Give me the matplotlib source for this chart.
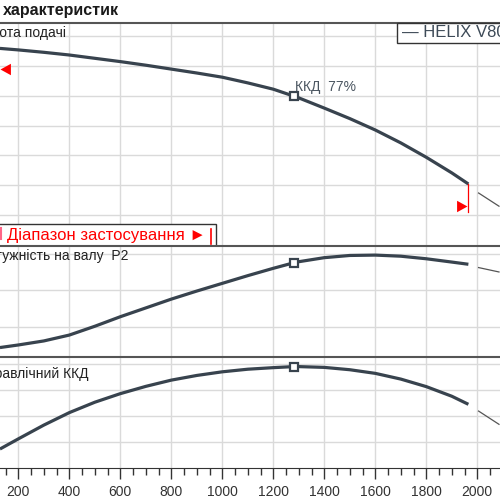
import matplotlib.pyplot as plt
from matplotlib.patches import Rectangle
from matplotlib.ticker import MultipleLocator

plt.rcParams['font.family'] = ['Liberation Sans', 'DejaVu Sans']

# flow values, Q
q = [128, 200, 300, 400, 500, 600, 700, 800, 900, 1000, 1100, 1200, 1280,
     1300, 1400, 1500, 1600, 1700, 1800, 1900, 1965]
# head, power P2, efficiency along the curve
head = [65.7, 65.2, 64.4, 63.5, 62.4, 61.3, 60.1, 58.8, 57.5, 56.1, 54.2, 52.1, 49.8,
        49.2, 45.8, 42.3, 38.5, 34.2, 29.4, 24.2, 20.5]
power = [17.2, 17.55, 18.1, 18.9, 20.1, 21.4, 22.6, 23.8, 24.9, 25.95, 27.0, 28.0, 28.75,
         28.9, 29.45, 29.75, 29.8, 29.65, 29.3, 28.85, 28.55]
eff = [45.3, 49.2, 54.5, 59.3, 63.3, 66.6, 69.4, 71.8, 73.6, 75.0, 76.0, 76.6, 77.0,
       77.0, 76.7, 75.8, 74.4, 72.2, 69.3, 65.6, 62.5]

# thin extension beyond the application range
q_ext = [2005, 2085]
head_ext = [17.5, 13.1]
power_ext = [28.1, 27.5]
eff_ext = [59.9, 54.8]

q_bep = 1280
head_bep = 49.8
power_bep = 28.75
eff_bep = 77

q_range = [128, 1965]
range_mark_h = [58.8, 13.3]
range_line_h = [20.5, 11.3]

line_col = '#38434e'
grid_col = '#dadada'

fig = plt.figure(figsize=(5, 5), dpi=100)
ax1 = fig.add_axes([0, 0.508, 1, 0.4466])
ax2 = fig.add_axes([0, 0.2854, 1, 0.2226])
ax3 = fig.add_axes([0, 0.064, 1, 0.2214])

for ax in (ax1, ax2, ax3):
    ax.set_xlim(128.2, 2089)
    ax.xaxis.set_major_locator(MultipleLocator(200))
    ax.grid(True, color=grid_col, lw=1)
    ax.set_axisbelow(True)
    for s in ('left', 'right', 'bottom'):
        ax.spines[s].set_visible(False)
    ax.spines['top'].set_color('#555555')
    ax.spines['top'].set_linewidth(1.5)
    ax.tick_params(left=False, labelleft=False, bottom=False, labelbottom=False)

ax1.set_ylim(-0.17, 74.27)
ax1.set_yticks([10, 20, 30, 40, 50, 60, 70])
ax2.set_ylim(15.87, 31.04)
ax2.set_yticks([20, 25, 30])
ax3.set_ylim(38, 80.58)
ax3.set_yticks([48, 58, 68, 78])

ax3.spines['bottom'].set_visible(True)
ax3.spines['bottom'].set_color('#333333')
ax3.xaxis.set_minor_locator(MultipleLocator(50))
ax3.tick_params(axis='x', which='major', bottom=True, labelbottom=True, length=8,
                width=1, color='#333333', labelsize=10, labelcolor='#333333', pad=4)
ax3.tick_params(axis='x', which='minor', bottom=True, length=5, width=1, color='#333333')

# curves
ax1.plot(q, head, color=line_col, lw=2.3, solid_capstyle='butt')
ax2.plot(q, power, color=line_col, lw=2.3, solid_capstyle='butt')
ax3.plot(q, eff, color=line_col, lw=2.3, solid_capstyle='butt')
ax1.plot(q_ext, head_ext, color='#555555', lw=0.9)
ax2.plot(q_ext, power_ext, color='#555555', lw=0.9)
ax3.plot(q_ext, eff_ext, color='#555555', lw=0.9)

# best efficiency point
for ax, yv in ((ax1, head_bep), (ax2, power_bep), (ax3, eff_bep)):
    ax.plot(q_bep, yv, marker='s', ms=6, mfc='white', mec=line_col, mew=1.6, zorder=5)
ax1.annotate('ККД  77%', (q_bep, head_bep), xytext=(1, 6.5), textcoords='offset points',
             fontsize=10, color='#4a5560', ha='left', va='center')

# application range marks
left_tri = [(0, 0), (1, 0.55), (1, -0.55), (0, 0)]
right_tri = [(0, 0), (-1, 0.55), (-1, -0.55), (0, 0)]
ax1.plot(q_range[0] + 1, range_mark_h[0], marker=left_tri, ms=15, color='red', mew=0)
ax1.plot(q_range[1] - 5, range_mark_h[1], marker=right_tri, ms=15, color='red', mew=0)
ax1.plot([q_range[1], q_range[1]], range_line_h, color='red', lw=0.9)

# application range box
ax1.add_patch(Rectangle((-0.01, 0), 0.442, 0.097, transform=ax1.transAxes,
                        facecolor='white', edgecolor='#333333', lw=1, zorder=3))
ax1.text(0.014, 0.047, 'Діапазон застосування ►', transform=ax1.transAxes,
         fontsize=12, color='red', ha='left', va='center', zorder=4)
ax1.plot([0.421, 0.421], [0.01, 0.075], transform=ax1.transAxes, color='red', lw=1.2, zorder=4)
ax1.plot([0.002, 0.002], [0.03, 0.08], transform=ax1.transAxes, color='#ff6688', lw=1.5, zorder=4)

# panel labels
ax1.text(0.132, 0.955, 'Висота подачі', transform=ax1.transAxes, fontsize=10,
         color='#222222', ha='right', va='center')
ax2.text(0.256, 0.91, 'Потужність на валу  P2', transform=ax2.transAxes, fontsize=10,
         color='#222222', ha='right', va='center')
ax3.text(0.176, 0.85, 'Гідравлічний ККД', transform=ax3.transAxes, fontsize=10,
         color='#222222', ha='right', va='center')

# legend box
ax1.add_patch(Rectangle((0.793, 0.9077), 0.3, 0.0923, transform=ax1.transAxes,
                        facecolor='white', edgecolor='#333333', lw=1, zorder=3, clip_on=False))
ax1.text(0.803, 0.955, '— HELIX V8003', transform=ax1.transAxes, fontsize=12,
         color='#3d4a57', ha='left', va='center', zorder=4)

fig.text(0.006, 0.979, 'характеристик', fontsize=11.5, fontweight='bold', color='#1a1a1a',
         ha='left', va='center')

fig.savefig('out.png', dpi=100)
